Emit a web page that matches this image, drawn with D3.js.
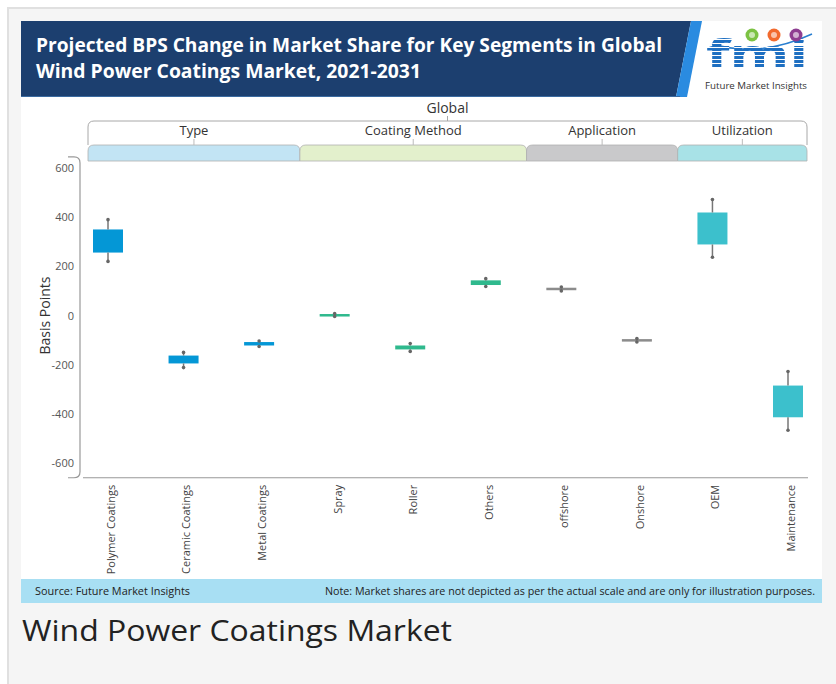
<!DOCTYPE html>
<html><head><meta charset="utf-8">
<script src="https://cdn.jsdelivr.net/npm/d3@7"></script>
<style>
html,body{margin:0;padding:0;background:#fff;}
svg{display:block;}
text{font-family:"Open Sans","Noto Sans",sans-serif;}
</style></head>
<body>
<script>
// ---------- data ----------
const categories = ["Polymer Coatings","Ceramic Coatings","Metal Coatings","Spray","Roller","Others","offshore","Onshore","OEM","Maintenance"];
const segmentOf  = ["Type","Type","Type","Coating Method","Coating Method","Coating Method","Application","Application","Utilization","Utilization"];
const segments   = ["Type","Coating Method","Application","Utilization"];
const whiskerLow  = [220, -212, -126,  -4, -146, 118, 100, -108, 237, -467];
const boxLow      = [256, -195, -122,  -2, -138, 124, 103, -106, 289, -414];
const boxHigh     = [350, -163, -108,   6, -122, 143, 113,  -96, 419, -285];
const whiskerHigh = [390, -150, -104,   8, -114, 150, 116,  -94, 472, -228];
const yTicks = [-600,-400,-200,0,200,400,600];
const segColors = {"Type":"#0497d6","Coating Method":"#2fb98d","Application":"#8c8c8c","Utilization":"#3cc0cc"};
const tabColors = {"Type":"#c2e4f4","Coating Method":"#e3f0cc","Application":"#c9c9cb","Utilization":"#a8e2e7"};

const W = 836, H = 684;
const svg = d3.select("body").append("svg").attr("width", W).attr("height", H);

// ---------- page frame ----------
svg.append("rect").attr("x",8).attr("y",8).attr("width",W).attr("height",H)
  .attr("fill","#f5f5f5").attr("stroke","#e0e0e0").attr("stroke-width",2);
svg.append("rect").attr("x",21).attr("y",21).attr("width",801).attr("height",582).attr("fill","#fff");

// ---------- header ----------
svg.append("path").attr("d","M21,21 L691,21 L676,97 L21,97 Z").attr("fill","#1c3f6f");
svg.append("path").attr("d","M691,21 L702,21 L687,97 L676,97 Z").attr("fill","#2a8be0");
svg.append("line").attr("x1",21).attr("x2",680).attr("y1",96.5).attr("y2",96.5).attr("stroke","#3a6aa0").attr("stroke-width",1);
svg.append("text").attr("x",36).attr("y",52).attr("fill","#fff").attr("font-size",19).attr("font-weight",700)
  .attr("textLength",626).attr("lengthAdjust","spacingAndGlyphs")
  .text("Projected BPS Change in Market Share for Key Segments in Global");
svg.append("text").attr("x",36).attr("y",78).attr("fill","#fff").attr("font-size",19).attr("font-weight",700)
  .attr("textLength",385).attr("lengthAdjust","spacingAndGlyphs")
  .text("Wind Power Coatings Market, 2021-2031");

// logo
const defs = svg.append("defs");
const pat = defs.append("pattern").attr("id","stripes").attr("patternUnits","userSpaceOnUse")
  .attr("width",4).attr("height",4);
pat.append("rect").attr("width",4).attr("height",4).attr("fill","#1e6fc1");
pat.append("rect").attr("y",3).attr("width",4).attr("height",1).attr("fill","#ffffff");
svg.append("path").attr("d","M712,44 Q760,58 812,34").attr("fill","none").attr("stroke","#2a7fd0").attr("stroke-width",1.5);
svg.append("text").attr("x",706).attr("y",68).attr("font-family","DejaVu Serif").attr("font-weight",700)
  .attr("font-size",40).attr("textLength",102).attr("lengthAdjust","spacingAndGlyphs")
  .attr("fill","url(#stripes)").text("fmi");
[["#7cc243",752],["#f26a2e",774],["#8e3d91",796]].forEach(([c,x])=>{
  svg.append("circle").attr("cx",x).attr("cy",35).attr("r",6.5).attr("fill",c);
  svg.append("circle").attr("cx",x).attr("cy",35).attr("r",3).attr("fill","#fff").attr("opacity",0.6);
});
svg.append("text").attr("x",705).attr("y",89).attr("font-size",9).attr("fill","#333")
  .attr("textLength",102).attr("lengthAdjust","spacingAndGlyphs").text("Future Market Insights");

// ---------- scales ----------
const x = d3.scalePoint().domain(categories).range([108, 788]);
const y = d3.scaleLinear().domain([-600, 600]).range([463, 168]);
const step = x.step();

// ---------- segment tabs ----------
const segBounds = segments.map(s => {
  const idx = categories.map((c,i)=>i).filter(i => segmentOf[i]===s);
  const first = idx[0], last = idx[idx.length-1];
  const left = first===0 ? x(categories[first]) - 20 : x(categories[first]) - step/2 + 3;
  const right = last===categories.length-1 ? x(categories[last]) + 19 : x(categories[last]) + step/2 + 3;
  return {s, left, right};
});
const tabTop = 145, tabBot = 161, r = 6;
segBounds.forEach(b => {
  svg.append("path")
    .attr("d",`M${b.left},${tabBot} L${b.left},${tabTop+r} Q${b.left},${tabTop} ${b.left+r},${tabTop} L${b.right-r},${tabTop} Q${b.right},${tabTop} ${b.right},${tabTop+r} L${b.right},${tabBot} Z`)
    .attr("fill", tabColors[b.s]).attr("stroke","#b0b0b0").attr("stroke-width",0.8);
  const cx = (b.left+b.right)/2;
  svg.append("text").attr("x",cx).attr("y",135).attr("text-anchor","middle").attr("font-size",13).attr("fill","#333").text(b.s);
  svg.append("line").attr("x1",cx).attr("x2",cx).attr("y1",139).attr("y2",145).attr("stroke","#bbb");
});
// Global bracket
const gL = segBounds[0].left, gR = segBounds[segBounds.length-1].right, gT = 121;
svg.append("path").attr("d",`M${gL},${tabTop} L${gL},${gT+6} Q${gL},${gT} ${gL+6},${gT} L${gR-6},${gT} Q${gR},${gT} ${gR},${gT+6} L${gR},${tabTop}`)
  .attr("fill","none").attr("stroke","#a8a8a8").attr("stroke-width",1);
const gC = (gL+gR)/2;
svg.append("line").attr("x1",gC).attr("x2",gC).attr("y1",116).attr("y2",gT).attr("stroke","#a8a8a8");
svg.append("text").attr("x",gC).attr("y",113).attr("text-anchor","middle").attr("font-size",14).attr("fill","#333").text("Global");

// ---------- axes ----------
const axTop = y(645), axBot = y(-660);
svg.append("path").attr("d",`M68,${axTop} L74,${axTop} Q80,${axTop} 80,${axTop+6} L80,${axBot-6} Q80,${axBot} 74,${axBot} L68,${axBot}`)
  .attr("fill","none").attr("stroke","#999").attr("stroke-width",1.2);
svg.append("line").attr("x1",83).attr("x2",808).attr("y1",axBot).attr("y2",axBot).attr("stroke","#999").attr("stroke-width",1.2);

const yAxis = svg.append("g").attr("transform","translate(74,0)")
  .call(d3.axisLeft(y).tickValues(yTicks).tickFormat(d => String(d)).tickSize(0).tickPadding(0));
yAxis.select(".domain").remove();
yAxis.selectAll("text").attr("font-size",11).attr("fill","#555").attr("font-family","Open Sans, sans-serif");

svg.append("text").attr("transform",`translate(50,${y(0)}) rotate(-90)`).attr("text-anchor","middle")
  .attr("font-size",14).attr("fill","#333").text("Basis Points");

const xAxis = svg.append("g").attr("transform",`translate(0,${axBot})`)
  .call(d3.axisBottom(x).tickSize(0).tickPadding(0));
xAxis.select(".domain").remove();
xAxis.selectAll(".tick").attr("transform","translate(0,0)");
xAxis.selectAll(".tick text")
  .attr("x",0).attr("y",0).attr("dy","0.35em")
  .attr("transform", d => `translate(${x(d)+3},7) rotate(-90)`)
  .attr("text-anchor","end").attr("font-size",11).attr("fill","#444").attr("font-family","Open Sans, sans-serif");

// ---------- boxes ----------
const boxW = 30;
const g = svg.append("g");
categories.forEach((c,i) => {
  const cx = x(c), col = segColors[segmentOf[i]];
  g.append("rect").attr("x",cx-boxW/2).attr("width",boxW)
    .attr("y", y(boxHigh[i])).attr("height", Math.max(2.5, y(boxLow[i]) - y(boxHigh[i])))
    .attr("fill", col);
  g.append("line").attr("x1",cx).attr("x2",cx).attr("y1",y(whiskerHigh[i])).attr("y2",y(boxHigh[i]))
    .attr("stroke","#777").attr("stroke-width",1.5);
  g.append("line").attr("x1",cx).attr("x2",cx).attr("y1",y(boxLow[i])).attr("y2",y(whiskerLow[i]))
    .attr("stroke","#777").attr("stroke-width",1.5);
  [whiskerHigh[i], whiskerLow[i]].forEach(v => {
    g.append("circle").attr("cx",cx).attr("cy",y(v)).attr("r",1.8).attr("fill","#666");
  });
});

// ---------- footer ----------
svg.append("rect").attr("x",21).attr("y",579).attr("width",801).attr("height",24).attr("fill","#a8dff3");
svg.append("text").attr("x",35).attr("y",595).attr("font-size",11).attr("fill","#222")
  .attr("textLength",155).attr("lengthAdjust","spacingAndGlyphs").text("Source: Future Market Insights");
svg.append("text").attr("x",815).attr("y",595).attr("font-size",11).attr("fill","#222").attr("text-anchor","end")
  .attr("textLength",490).attr("lengthAdjust","spacingAndGlyphs")
  .text("Note: Market shares are not depicted as per the actual scale and are only for illustration purposes.");

svg.append("text").attr("x",22).attr("y",641).attr("font-size",29).attr("fill","#222")
  .attr("textLength",430).attr("lengthAdjust","spacingAndGlyphs").text("Wind Power Coatings Market");
</script>
</body></html>
